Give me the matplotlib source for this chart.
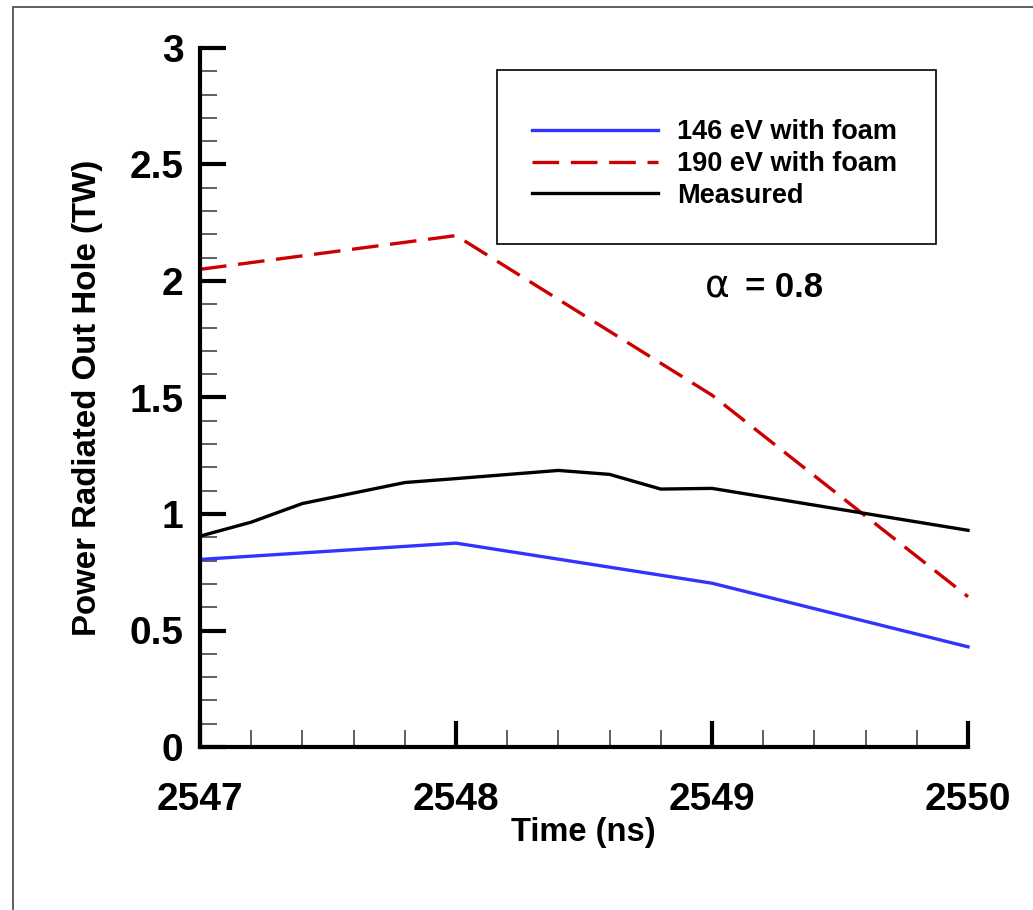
import matplotlib
matplotlib.use('Agg')
import matplotlib.pyplot as plt
from matplotlib.patches import Rectangle
from matplotlib.ticker import MultipleLocator

plt.rcParams['font.family'] = ['Liberation Sans', 'DejaVu Sans']
plt.rcParams['font.weight'] = 'bold'

# simulated curves
t_sim = [2547, 2548, 2549, 2550]
p_146 = [0.805, 0.875, 0.703, 0.43]
p_190 = [2.05, 2.195, 1.51, 0.645]

# measured trace
t_meas = [2547, 2547.2, 2547.4, 2547.6, 2547.8, 2548.0, 2548.4, 2548.6, 2548.8, 2549.0, 2550]
p_meas = [0.905, 0.965, 1.045, 1.09, 1.135, 1.152, 1.187, 1.17, 1.107, 1.11, 0.93]

labels = ['146 eV with foam', '190 eV with foam', 'Measured']

W, H = 1033, 910
fig = plt.figure(figsize=(W / 100, H / 100), dpi=100)

# thin frame round the page
fig.patches.append(Rectangle((13 / W, -0.1), 1.2, 1.1 - 7 / H, transform=fig.transFigure,
                             fill=False, edgecolor='#444444', linewidth=1.2))

ax = fig.add_axes([200 / W, (H - 747) / H, 768 / W, 699 / H])

l1, = ax.plot(t_sim, p_146, color='#3333ff', lw=2.4, label=labels[0], clip_on=False)
l2, = ax.plot(t_sim, p_190, color='#cc0000', lw=2.4, dashes=(8, 3.5), label=labels[1], clip_on=False)
l3, = ax.plot(t_meas, p_meas, color='black', lw=2.4, label=labels[2], clip_on=False)

ax.set_xlim(2547, 2550)
ax.set_ylim(0, 3)

for s in ['top', 'right']:
    ax.spines[s].set_visible(False)
for s in ['left', 'bottom']:
    ax.spines[s].set_linewidth(3)

ax.xaxis.set_major_locator(MultipleLocator(1))
ax.xaxis.set_minor_locator(MultipleLocator(0.2))
ax.yaxis.set_minor_locator(MultipleLocator(0.1))
ax.set_yticks([0, 0.5, 1, 1.5, 2, 2.5, 3])
ax.set_yticklabels(['0', '0.5', '1', '1.5', '2', '2.5', '3'])

ax.tick_params(which='major', direction='in', length=19, width=3, labelsize=28)
ax.tick_params(which='minor', direction='in', length=12, width=1.2, color='#444444')
ax.tick_params(axis='y', which='major', pad=12)
ax.tick_params(axis='x', which='major', pad=25)
for lab in ax.get_xticklabels() + ax.get_yticklabels():
    lab.set_fontweight('bold')

fig.text(583 / W, 1 - 833 / H, 'Time (ns)', fontsize=23.5, fontweight='bold',
         ha='center', va='center')
fig.text(88 / W, 1 - 398 / H, 'Power Radiated Out Hole (TW)', fontsize=23.8,
         fontweight='bold', rotation=90, ha='center', va='center')

# legend box
fig.patches.append(Rectangle((497 / W, 1 - 244 / H), (936 - 497) / W, (244 - 70) / H,
                             transform=fig.transFigure, fill=False, edgecolor='black', lw=1.2))
leg = fig.legend(handles=[l1, l2, l3], loc='center left',
                 bbox_to_anchor=(532 / W, 1 - 164 / H), frameon=False,
                 fontsize=19.5, handlelength=4.65, handletextpad=0.72, labelspacing=0.22,
                 borderpad=0, borderaxespad=0)
for txt in leg.get_texts():
    txt.set_fontweight('bold')

fig.text(705 / W, 1 - 297 / H, 'α', fontsize=27, family='DejaVu Sans',
         fontweight='normal', ha='left', va='baseline')
fig.text(745 / W, 1 - 297 / H, '= 0.8', fontsize=25, fontweight='bold',
         ha='left', va='baseline')

fig.savefig('out.png', dpi=100)
